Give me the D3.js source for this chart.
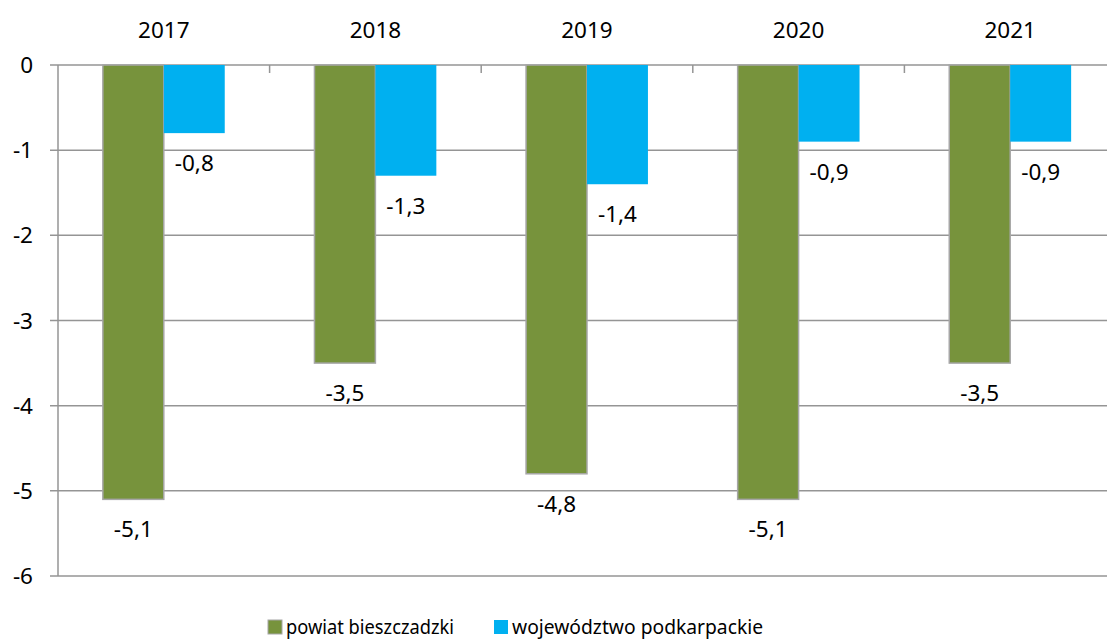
<!DOCTYPE html>
<html>
<head>
<meta charset="utf-8">
<script src="https://cdn.jsdelivr.net/npm/d3@7"></script>
<style>
  body { margin: 0; background: #fff; }
  svg { font-family: "Noto Sans", "Open Sans", sans-serif; }
</style>
</head>
<body>
<script>
// chart data
const years = ["2017", "2018", "2019", "2020", "2021"];
const powiat = [-5.1, -3.5, -4.8, -5.1, -3.5];
const wojewodztwo = [-0.8, -1.3, -1.4, -0.9, -0.9];
const seriesNames = ["powiat bieszczadzki", "województwo podkarpackie"];
const seriesColors = ["#77933C", "#00B0F0"];
const yTicks = [0, -1, -2, -3, -4, -5, -6];

const width = 1107, height = 640;
const margin = { left: 58, top: 65, right: -9, bottom: 64 };
const fontSize = "22.5px";

const svg = d3.select("body").append("svg")
  .attr("width", width)
  .attr("height", height);

const x = d3.scaleBand()
  .domain(years)
  .range([margin.left, width - margin.right])
  .paddingInner(0)
  .paddingOuter(0);

const y = d3.scaleLinear()
  .domain([0, -6])
  .range([margin.top, height - margin.bottom]);

const bw = x.bandwidth();
const barW = bw * 0.288;

// gridlines
svg.append("g").selectAll("line")
  .data(yTicks)
  .enter().append("line")
  .attr("x1", margin.left - 8)
  .attr("x2", width - margin.right)
  .attr("y1", d => y(d))
  .attr("y2", d => y(d))
  .style("stroke", "#959595")
  .style("stroke-width", 1.5);

// left axis line
svg.append("line")
  .attr("x1", margin.left).attr("x2", margin.left)
  .attr("y1", y(0)).attr("y2", y(-6))
  .style("stroke", "#959595")
  .style("stroke-width", 1.5);

// y labels
svg.append("g").selectAll("text")
  .data(yTicks)
  .enter().append("text")
  .attr("x", 33)
  .attr("y", d => y(d) + 8)
  .attr("text-anchor", "end")
  .style("font-size", fontSize)
  .style("fill", "#000")
  .text(d => d);

// category ticks on the zero line
svg.append("g").selectAll("line")
  .data(years.slice(1))
  .enter().append("line")
  .attr("x1", d => x(d)).attr("x2", d => x(d))
  .attr("y1", y(0)).attr("y2", y(0) + 8)
  .style("stroke", "#959595")
  .style("stroke-width", 1.5);

// year labels on top
svg.append("g").selectAll("text")
  .data(years)
  .enter().append("text")
  .attr("x", d => x(d) + bw / 2)
  .attr("y", 38)
  .attr("text-anchor", "middle")
  .style("font-size", fontSize)
  .text(d => d);

const series = [powiat, wojewodztwo];

series.forEach((vals, si) => {
  const g = svg.append("g");
  g.selectAll("rect")
    .data(vals)
    .enter().append("rect")
    .attr("x", (d, i) => x(years[i]) + bw / 2 - barW + si * barW)
    .attr("y", y(0))
    .attr("width", barW)
    .attr("height", d => y(d) - y(0))
    .style("fill", seriesColors[si])
    .style("stroke", si === 0 ? "#a6a6a6" : "none")
    .style("stroke-width", 1.5);

  g.selectAll("text")
    .data(vals)
    .enter().append("text")
    .attr("x", (d, i) => x(years[i]) + bw / 2 - barW / 2 + si * barW)
    .attr("y", d => y(d) + 38)
    .attr("text-anchor", "middle")
    .style("font-size", fontSize)
    .text(d => d3.format(".1f")(d).replace(".", ",").replace("−", "-"));
});

// legend
const legend = svg.append("g").attr("transform", "translate(268, 620)");
const legX = [0, 226];
const legW = [168, 251];
seriesNames.forEach((name, i) => {
  legend.append("rect")
    .attr("x", legX[i]).attr("y", 0)
    .attr("width", 14).attr("height", 14)
    .style("fill", seriesColors[i])
    .style("stroke", i === 0 ? "#a6a6a6" : "none");
  legend.append("text")
    .attr("x", legX[i] + 18)
    .attr("y", 14)
    .attr("textLength", legW[i])
    .attr("lengthAdjust", "spacingAndGlyphs")
    .style("font-size", "19.5px")
    .text(name);
});
</script>
</body>
</html>
